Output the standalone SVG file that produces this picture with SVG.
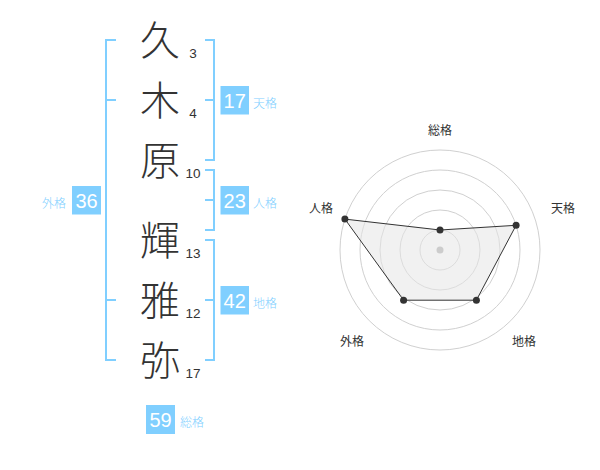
<svg xmlns="http://www.w3.org/2000/svg" width="600" height="470" viewBox="0 0 600 470">
<style>
.kanji{font-family:"Noto Sans CJK JP","Noto Sans CJK SC",sans-serif;font-size:40px;font-weight:300;fill:#333;text-anchor:middle}
.stroke{font-family:"Liberation Sans",Arial,sans-serif;font-size:13.5px;fill:#333;text-anchor:middle}
.box{fill:#80cfff}
.num{font-family:"Liberation Sans",Arial,sans-serif;font-size:20px;fill:#fff;text-anchor:middle}
.lbl{font-family:"Noto Sans CJK JP","Noto Sans CJK SC",sans-serif;font-size:12px;font-weight:300;fill:#80cfff}
.br{fill:none;stroke:#80cfff;stroke-width:2}
.ring{fill:none;stroke:#d0d0d0;stroke-width:1}
.rl{font-family:"Noto Sans CJK JP","Noto Sans CJK SC",sans-serif;font-size:12px;fill:#333;text-anchor:middle}
.pt{fill:#333}
</style>
<rect width="600" height="470" fill="#fff"/>
<g id="connectors">
<path class="br" d="M116,40 H106 V360 H116 M106,100 H116 M106,300 H116"/>
<path class="br" d="M205,40 H214 V160 H205 M205,100 H214"/>
<path class="br" d="M205,170 H214 V230 H205 M205,200 H214"/>
<path class="br" d="M205,240 H214 V360 H205 M205,300 H214"/>
</g>
<g id="char1"><text class="kanji" x="160" y="55">久</text><text class="stroke" x="193" y="57.5">3</text></g>
<g id="char2"><text class="kanji" x="160" y="115">木</text><text class="stroke" x="193" y="117.5">4</text></g>
<g id="char3"><text class="kanji" x="160" y="175">原</text><text class="stroke" x="193" y="177.5">10</text></g>
<g id="char4"><text class="kanji" x="160" y="255">輝</text><text class="stroke" x="193" y="257.5">13</text></g>
<g id="char5"><text class="kanji" x="160" y="315">雅</text><text class="stroke" x="193" y="317.5">12</text></g>
<g id="char6"><text class="kanji" x="160" y="375">弥</text><text class="stroke" x="193" y="377.5">17</text></g>
<g id="tenkaku"><rect class="box" x="220.5" y="86" width="28.5" height="28.5"/><text class="num" x="234.7" y="108">17</text><text class="lbl" x="253" y="108">天格</text></g>
<g id="jinkaku"><rect class="box" x="220.5" y="186" width="28.5" height="28.5"/><text class="num" x="234.7" y="208">23</text><text class="lbl" x="253" y="208">人格</text></g>
<g id="chikaku"><rect class="box" x="220.5" y="286" width="28.5" height="28.5"/><text class="num" x="234.7" y="308">42</text><text class="lbl" x="253" y="308">地格</text></g>
<g id="gaikaku"><rect class="box" x="72" y="186" width="29" height="28.5"/><text class="num" x="86.5" y="208">36</text><text class="lbl" x="66" y="208" text-anchor="end">外格</text></g>
<g id="soukaku"><rect class="box" x="146" y="405" width="29" height="29"/><text class="num" x="160.5" y="427">59</text><text class="lbl" x="180" y="427">総格</text></g>
<g id="radar">
<circle class="ring" cx="440" cy="250" r="20"/>
<circle class="ring" cx="440" cy="250" r="40"/>
<circle class="ring" cx="440" cy="250" r="60"/>
<circle class="ring" cx="440" cy="250" r="80"/>
<circle class="ring" cx="440" cy="250" r="100"/>
<polygon points="440,230 516.1,225.3 476.4,300.2 403.6,300.2 344.9,219.1" fill="#e6e6e6" fill-opacity="0.55" stroke="#333" stroke-width="1"/>
<circle cx="440" cy="250" r="3.5" fill="#ccc"/>
<circle class="pt" cx="440" cy="230" r="3.5"/>
<circle class="pt" cx="516.1" cy="225.3" r="3.5"/>
<circle class="pt" cx="476.4" cy="300.2" r="3.5"/>
<circle class="pt" cx="403.6" cy="300.2" r="3.5"/>
<circle class="pt" cx="344.9" cy="219.1" r="3.5"/>
<text class="rl" x="440" y="134.5">総格</text>
<text class="rl" x="563" y="212.5">天格</text>
<text class="rl" x="321" y="212.5">人格</text>
<text class="rl" x="352" y="346">外格</text>
<text class="rl" x="524" y="346">地格</text>
</g>
</svg>
